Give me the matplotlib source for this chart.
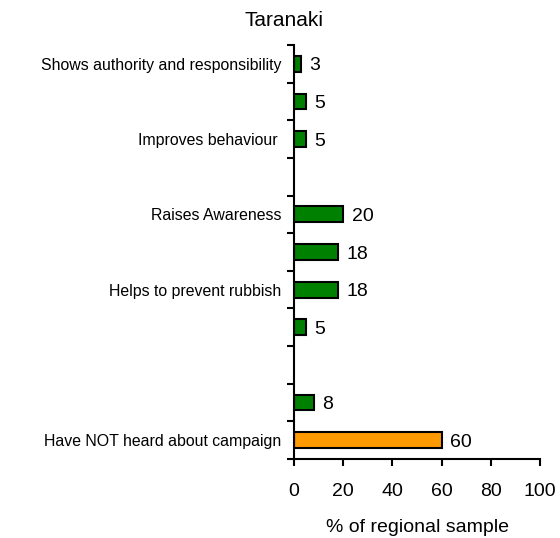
import numpy as np
import matplotlib
matplotlib.use("Agg")
import matplotlib.pyplot as plt

plt.rcParams['font.family'] = ['Liberation Sans', 'DejaVu Sans']

# top to bottom; empty label = unlabelled bar, nan = empty slot
categories = ["Shows authority and responsibility", "", "Improves behaviour ", "",
              "Raises Awareness", "", "Helps to prevent rubbish", "", "", "",
              "Have NOT heard about campaign"]
values = [3, 5, 5, np.nan, 20, 18, 18, 5, np.nan, 8, 60]
colors = ["#008000"] * 10 + ["#FF9900"]
xticks = [0, 20, 40, 60, 80, 100]

fig = plt.figure(figsize=(5.6, 5.38), dpi=100)
ax = fig.add_axes([0.525, 0.1468, 0.4393, 0.7696])

pos = np.arange(len(categories))
ax.barh(pos, values, height=0.42, color=colors, edgecolor="black", linewidth=1.5)

for p, v in zip(pos, values):
    if np.isnan(v):
        continue
    ax.annotate(f"{v:g}", (v, p), xytext=(6, -1.5), textcoords="offset points",
                va="center", ha="left", fontsize=14)

ax.set_ylim(len(categories) - 0.5, -0.5)
ax.set_xlim(0, 100)
ax.set_xticks(xticks)
ax.tick_params(axis="x", labelsize=14, length=5, width=1.5, pad=12)

ax.set_yticks(pos)
ax.set_yticklabels(categories, fontsize=11.4)
ax.set_yticks(np.arange(-0.5, len(categories)), minor=True)
ax.tick_params(axis="y", which="major", length=0, pad=9)
ax.tick_params(axis="y", which="minor", length=5, width=1.5)

for s in ["top", "right"]:
    ax.spines[s].set_visible(False)
for s in ["left", "bottom"]:
    ax.spines[s].set_linewidth(1.5)

ax.set_xlabel("% of regional sample", fontsize=14, labelpad=14)
fig.text(284 / 560, 1 - 21 / 538, "Taranaki", ha="center", va="center", fontsize=15)

fig.savefig("out.png", dpi=100)
